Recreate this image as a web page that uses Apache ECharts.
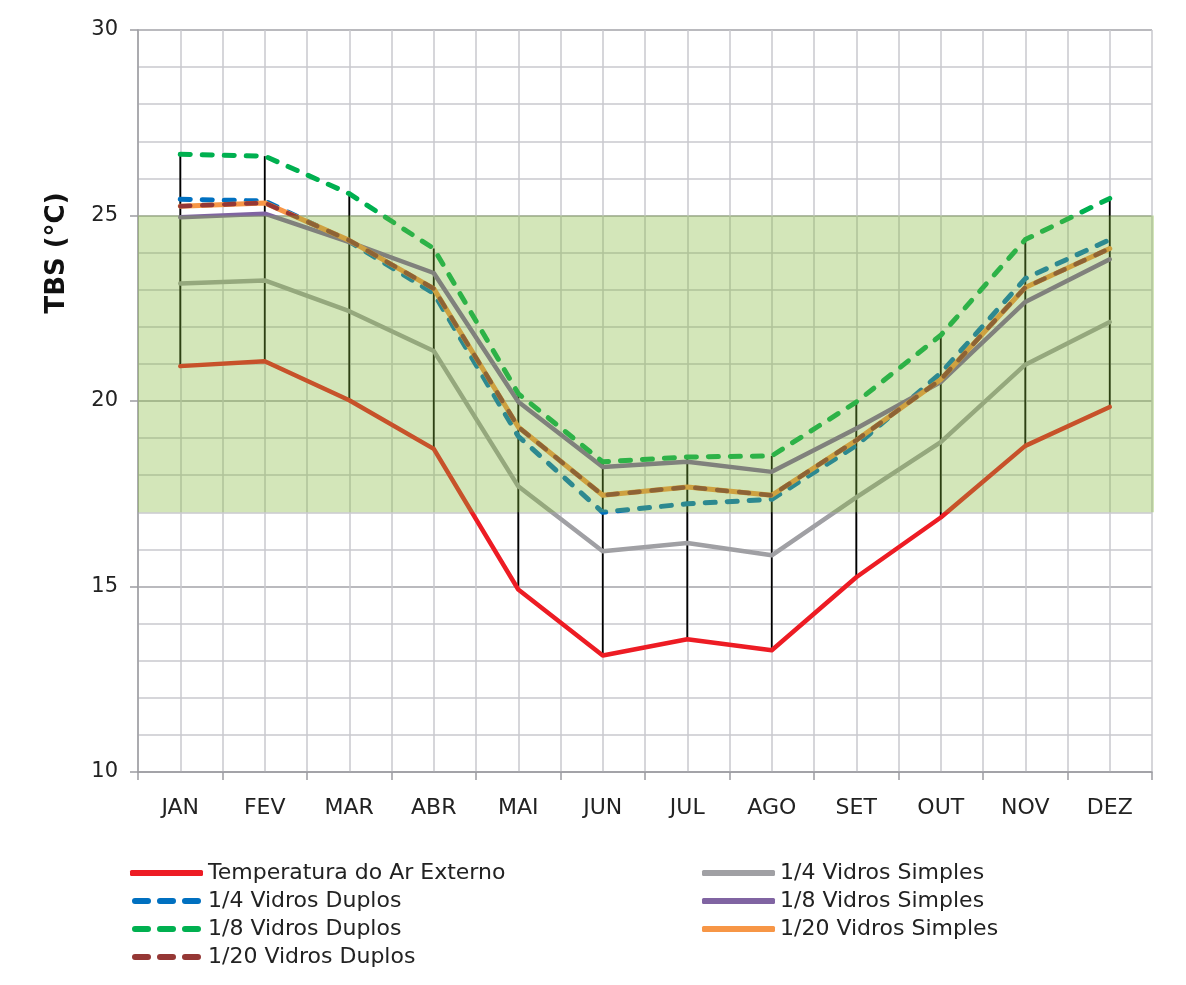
<!DOCTYPE html>
<html>
<head>
<meta charset="utf-8">
<title>TBS</title>
<script src="https://cdn.jsdelivr.net/npm/echarts@6.0.0/dist/echarts.min.js"></script>
<style>
  html, body { margin: 0; padding: 0; background: #fff; }
  #chart { width: 1186px; height: 985px; }
</style>
</head>
<body>
<div id="chart"></div>
<script>
  // meses e temperaturas (°C)
  let months = ['JAN', 'FEV', 'MAR', 'ABR', 'MAI', 'JUN', 'JUL', 'AGO', 'SET', 'OUT', 'NOV', 'DEZ'];
  let tempExterna = [20.94, 21.07, 20.02, 18.71, 14.92, 13.14, 13.58, 13.28, 15.25, 16.86, 18.79, 19.84];
  let simples14 = [23.17, 23.25, 22.42, 21.35, 17.70, 15.95, 16.17, 15.84, 17.40, 18.89, 20.98, 22.13];
  let duplos14 = [25.44, 25.39, 24.30, 22.90, 19.05, 17.00, 17.23, 17.35, 18.80, 20.75, 23.30, 24.35];
  let simples18 = [24.95, 25.05, 24.28, 23.45, 19.98, 18.22, 18.36, 18.09, 19.26, 20.51, 22.67, 23.82];
  let duplos18 = [26.65, 26.60, 25.59, 24.11, 20.20, 18.36, 18.49, 18.52, 19.97, 21.77, 24.35, 25.46];
  let simples120 = [25.25, 25.34, 24.33, 23.03, 19.30, 17.46, 17.68, 17.46, 18.94, 20.58, 23.06, 24.11];
  let duplos120 = [25.25, 25.34, 24.33, 23.03, 19.30, 17.46, 17.68, 17.46, 18.94, 20.58, 23.06, 24.11];
  // zona de conforto
  let conforto = [17, 25];

  let font = 'DejaVu Sans';
  let allSeries = [tempExterna, simples14, duplos14, simples18, duplos18, simples120, duplos120];

  // icones da legenda (linha cheia / tracejada)
  let iconCheio = 'roundRect';
  let iconTracejado = 'path://M3,0H16A3,3 0 0 1 16,6H3A3,3 0 0 1 3,0Z' +
    'M28,0H41A3,3 0 0 1 41,6H28A3,3 0 0 1 28,0Z' +
    'M53,0H66A3,3 0 0 1 66,6H53A3,3 0 0 1 53,0Z';

  // linhas de maximo/minimo de cada mes
  let hiLow = months.map(function (m, i) {
    let vals = allSeries.map(function (s) { return s[i]; });
    return [i, Math.max.apply(null, vals), Math.min.apply(null, vals)];
  });

  function lineSerie(name, data, color, dashed, width) {
    return {
      name: name,
      type: 'line',
      data: data,
      symbol: 'none',
      z: 3,
      lineStyle: {
        color: color,
        width: width,
        type: dashed ? [10, 12] : 'solid',
        cap: 'round',
        join: 'round'
      },
      itemStyle: { color: color }
    };
  }

  let legendBase = {
    orient: 'vertical',
    top: 857,
    itemWidth: 73,
    itemHeight: 6,
    itemGap: 6,
    textStyle: { fontFamily: font, fontSize: 22, color: '#222', lineHeight: 22 }
  };

  let myChart = echarts.init(document.getElementById('chart'));
  let option = {
    animation: false,
    backgroundColor: '#fff',
    textStyle: { fontFamily: font },
    grid: { left: 138, right: 34, top: 30, bottom: 213 },
    graphic: [{
      type: 'text',
      x: 57,
      y: 253,
      rotation: Math.PI / 2,
      style: {
        text: 'TBS (°C)',
        font: 'bold 26px "DejaVu Sans"',
        fill: '#111',
        textAlign: 'center',
        textVerticalAlign: 'middle'
      }
    }],
    legend: [
      Object.assign({}, legendBase, {
        left: 125,
        data: [
          { name: 'Temperatura do Ar Externo', icon: iconCheio },
          { name: '1/4 Vidros Duplos', icon: iconTracejado },
          { name: '1/8 Vidros Duplos', icon: iconTracejado },
          { name: '1/20 Vidros Duplos', icon: iconTracejado }
        ]
      }),
      Object.assign({}, legendBase, {
        left: 697,
        data: [
          { name: '1/4 Vidros Simples', icon: iconCheio },
          { name: '1/8 Vidros Simples', icon: iconCheio },
          { name: '1/20 Vidros Simples', icon: iconCheio }
        ]
      })
    ],
    xAxis: [{
      type: 'category',
      data: months,
      boundaryGap: true,
      axisLine: { lineStyle: { color: '#9c9ca1', width: 1.5 } },
      axisTick: { show: true, length: 8, lineStyle: { color: '#9c9ca1', width: 1.5 } },
      axisLabel: { color: '#222', fontSize: 22, margin: 25, fontFamily: font },
      splitLine: { show: false }
    }, {
      type: 'value',
      min: 0,
      max: 24,
      interval: 1,
      position: 'top',
      axisLine: { show: false },
      axisTick: { show: false },
      axisLabel: { show: false },
      splitLine: { show: true, lineStyle: { color: '#c9c9ce', width: 1.5 } }
    }],
    yAxis: {
      type: 'value',
      min: 10,
      max: 30,
      interval: 5,
      axisLine: { show: true, lineStyle: { color: '#9c9ca1', width: 1.5 } },
      axisTick: { show: true, length: 8, lineStyle: { color: '#9c9ca1', width: 1.5 } },
      axisLabel: { color: '#222', fontSize: 21, margin: 20, fontFamily: font },
      splitLine: { lineStyle: { color: '#a3a3a8', width: 1.5 } },
      minorTick: { show: false, splitNumber: 5 },
      minorSplitLine: { show: true, lineStyle: { color: '#c9c9ce', width: 1.5 } }
    },
    series: [
      {
        type: 'custom',
        name: 'hilow',
        z: 2,
        data: hiLow,
        encode: { x: 0, y: [1, 2] },
        renderItem: function (params, api) {
          let top = api.coord([api.value(0), api.value(1)]);
          let bottom = api.coord([api.value(0), api.value(2)]);
          return {
            type: 'line',
            shape: { x1: top[0], y1: top[1], x2: bottom[0], y2: bottom[1] },
            style: { stroke: '#000', lineWidth: 1.8 }
          };
        }
      },
      lineSerie('Temperatura do Ar Externo', tempExterna, '#ed1c24', false, 4.5),
      lineSerie('1/4 Vidros Simples', simples14, '#a0a0a4', false, 4.5),
      lineSerie('1/4 Vidros Duplos', duplos14, '#0070c0', true, 5),
      lineSerie('1/8 Vidros Simples', simples18, '#8064a2', false, 4.5),
      lineSerie('1/8 Vidros Duplos', duplos18, '#00b050', true, 5),
      lineSerie('1/20 Vidros Simples', simples120, '#f79646', false, 5),
      lineSerie('1/20 Vidros Duplos', duplos120, '#953735', true, 4.5),
      {
        type: 'custom',
        name: 'conforto',
        z: 10,
        silent: true,
        data: [[0, conforto[0], conforto[1]]],
        encode: { x: 0, y: [1, 2] },
        renderItem: function (params, api) {
          let cs = params.coordSys;
          let top = api.coord([0, api.value(2)])[1];
          let bottom = api.coord([0, api.value(1)])[1];
          return {
            type: 'rect',
            shape: { x: cs.x, y: top, width: cs.width + 2, height: bottom - top },
            style: { fill: 'rgba(129,184,55,0.35)' }
          };
        }
      }
    ]
  };

  myChart.setOption(option);
  window.addEventListener('resize', function () {
    myChart.resize()
  });
</script>
</body>
</html>
